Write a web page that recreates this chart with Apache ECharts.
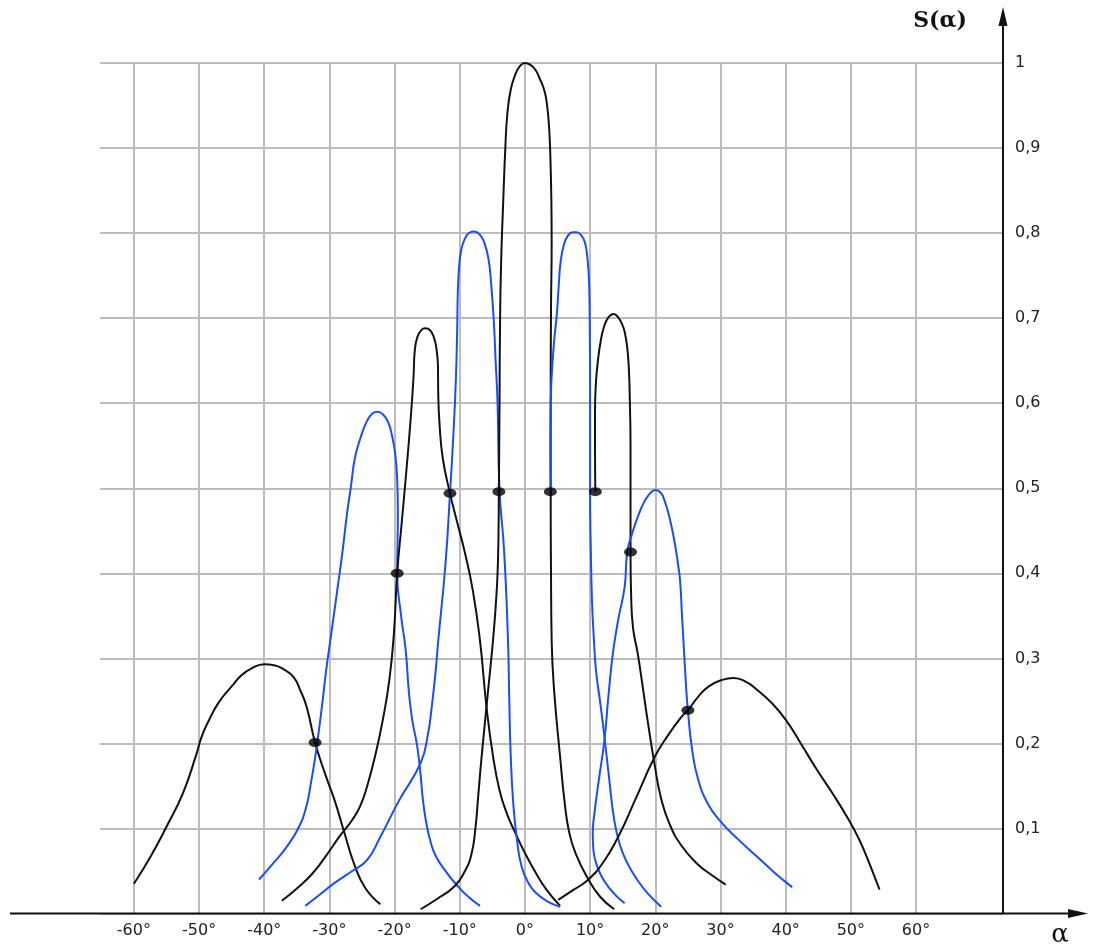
<!DOCTYPE html>
<html>
<head>
<meta charset="utf-8">
<script src="https://cdn.jsdelivr.net/npm/echarts@6/dist/echarts.min.js"></script>
<style>
  html, body { margin: 0; padding: 0; background: #fff; }
  #chart { width: 1101px; height: 944px; }
</style>
</head>
<body>
<div id="chart"></div>
<script>
// axis ticks
const xTicks = [-60, -50, -40, -30, -20, -10, 0, 10, 20, 30, 40, 50, 60]
const xMin = -65.2
const xMax = 73.35

// black curves [alpha, S]
const black1 = [[-60, 0.035], [-57.5, 0.066], [-55, 0.102], [-52.5, 0.141], [-50.5, 0.185], [-49.6, 0.208], [-48.5, 0.227], [-47, 0.248], [-45, 0.267], [-43.5, 0.28], [-42, 0.288], [-40, 0.293], [-38.5, 0.292], [-37, 0.287], [-35.5, 0.278], [-34.5, 0.263], [-33.5, 0.243], [-32.2, 0.201], [-30.7, 0.165], [-29.2, 0.133], [-27.7, 0.095], [-26.2, 0.058], [-24.5, 0.03], [-22.2, 0.011]]
const black2 = [[-37.3, 0.015], [-34.9, 0.03], [-32.6, 0.047], [-30.5, 0.068], [-28.5, 0.09], [-26.5, 0.11], [-25.3, 0.126], [-24.2, 0.15], [-23, 0.185], [-21.8, 0.228], [-20.8, 0.275], [-20.1, 0.33], [-19.6, 0.4], [-18.9, 0.46], [-18.2, 0.52], [-17.5, 0.585], [-17.1, 0.63], [-16.9, 0.662], [-16.5, 0.678], [-15.9, 0.686], [-15.3, 0.688], [-14.6, 0.686], [-14, 0.678], [-13.6, 0.665], [-13.35, 0.645], [-13.3, 0.61], [-13.1, 0.575], [-12.6, 0.535], [-11.5, 0.494], [-10.4, 0.46], [-9.3, 0.427], [-8, 0.38], [-6.9, 0.321], [-5.9, 0.243], [-4.9, 0.185], [-3.9, 0.145], [-2.8, 0.118], [-1.5, 0.095], [0, 0.071], [1.5, 0.05], [3.3, 0.028], [5.4, 0.009]]
const black3 = [[-16, 0.005], [-13.5, 0.017], [-10.8, 0.032], [-9.2, 0.05], [-8.2, 0.07], [-7.6, 0.1], [-7.2, 0.135], [-6.7, 0.18], [-5.9, 0.243], [-4.9, 0.321], [-4.5, 0.36], [-4.2, 0.4], [-4.05, 0.45], [-4, 0.5], [-3.9, 0.6], [-3.8, 0.71], [-3.6, 0.78], [-3.4, 0.823], [-3, 0.902], [-2.7, 0.94], [-2.2, 0.968], [-1.5, 0.986], [-0.8, 0.996], [0, 1], [0.8, 0.998], [1.6, 0.992], [2.25, 0.982], [3, 0.967], [3.4, 0.95], [3.7, 0.925], [3.9, 0.89], [4.05, 0.84], [4.1, 0.79], [4.0, 0.71], [3.95, 0.6], [3.95, 0.496], [4.0, 0.4], [4.1, 0.321], [4.5, 0.26], [5.4, 0.184], [6.1, 0.13], [6.8, 0.095], [7.8, 0.07], [9.6, 0.042], [11.5, 0.02], [13.7, 0.005]]
const black4 = [[10.8, 0.496], [10.75, 0.55], [10.75, 0.59], [10.9, 0.625], [11.2, 0.65], [11.6, 0.672], [12.1, 0.689], [12.8, 0.701], [13.6, 0.705], [14.3, 0.701], [14.9, 0.693], [15.3, 0.684], [15.7, 0.665], [15.95, 0.64], [16.1, 0.6], [16.2, 0.549], [16.2, 0.48], [16.2, 0.425], [16.3, 0.372], [16.6, 0.335], [17.3, 0.306], [18.1, 0.265], [18.8, 0.228], [19.9, 0.175], [20.9, 0.135], [22.2, 0.105], [24, 0.08], [26.5, 0.058], [28.7, 0.045], [30.8, 0.034]]
const black5 = [[5.1, 0.016], [7.5, 0.028], [9.6, 0.039], [12, 0.06], [14.3, 0.09], [17, 0.135], [19.9, 0.184], [22, 0.21], [24, 0.231], [25, 0.239], [26.6, 0.255], [28.2, 0.267], [30, 0.274], [32, 0.277], [34, 0.272], [35.6, 0.263], [37.8, 0.248], [40, 0.228], [42.4, 0.199], [44.8, 0.169], [47.3, 0.14], [49.7, 0.11], [51.1, 0.09], [52.2, 0.071], [53.4, 0.048], [54.4, 0.028]]

// blue curves [alpha, S]
const blue1 = [[-40.8, 0.04], [-38.5, 0.06], [-36.5, 0.079], [-34.8, 0.1], [-33.6, 0.124], [-32.8, 0.155], [-32.1, 0.188], [-31.2, 0.24], [-30.5, 0.286], [-29.7, 0.33], [-28.8, 0.38], [-28, 0.425], [-27.3, 0.47], [-26.7, 0.502], [-26.1, 0.535], [-25.2, 0.56], [-24.3, 0.578], [-23.4, 0.588], [-22.6, 0.59], [-21.8, 0.587], [-21, 0.578], [-20.4, 0.562], [-19.9, 0.54], [-19.6, 0.51], [-19.5, 0.47], [-19.6, 0.4], [-19, 0.35], [-18.3, 0.31], [-17.8, 0.26], [-17.3, 0.228], [-16.6, 0.2], [-16.1, 0.17], [-15.6, 0.13], [-15.1, 0.105], [-14.5, 0.085], [-13.7, 0.068], [-12, 0.048], [-10.3, 0.032], [-8.6, 0.019], [-6.9, 0.009]]
const blue2 = [[-33.7, 0.009], [-31.5, 0.022], [-29.2, 0.036], [-26.5, 0.05], [-24.2, 0.063], [-22.2, 0.09], [-19.3, 0.133], [-16, 0.177], [-14.9, 0.21], [-14.3, 0.243], [-13.7, 0.285], [-13.3, 0.321], [-12.2, 0.41], [-11.5, 0.494], [-11, 0.56], [-10.6, 0.627], [-10.4, 0.685], [-10.3, 0.73], [-10.1, 0.76], [-9.8, 0.779], [-9.3, 0.792], [-8.6, 0.8], [-7.8, 0.802], [-6.9, 0.798], [-6.2, 0.788], [-5.6, 0.77], [-5.2, 0.742], [-4.8, 0.7], [-4.5, 0.65], [-4.2, 0.6], [-3.9, 0.498], [-3.2, 0.427], [-2.6, 0.321], [-2.4, 0.25], [-2.2, 0.19], [-1.8, 0.13], [-1.2, 0.085], [-0.5, 0.055], [0.6, 0.035], [1.7, 0.024], [3.5, 0.014], [5.4, 0.008]]
const blue3 = [[3.95, 0.496], [3.9, 0.55], [3.95, 0.6], [4.4, 0.666], [4.9, 0.705], [5.2, 0.74], [5.5, 0.768], [6, 0.787], [6.6, 0.797], [7.3, 0.801], [7.9, 0.801], [8.6, 0.798], [9.2, 0.789], [9.6, 0.77], [9.85, 0.74], [9.95, 0.69], [10, 0.6], [10, 0.498], [10.1, 0.43], [10.3, 0.365], [10.6, 0.32], [10.9, 0.286], [11.6, 0.245], [12.2, 0.208], [12.9, 0.16], [13.7, 0.11], [14.6, 0.08], [15.8, 0.058], [17.2, 0.04], [18.8, 0.024], [20.9, 0.008]]
const blue4 = [[15.3, 0.012], [13.6, 0.024], [12.2, 0.038], [11.2, 0.053], [10.5, 0.075], [10.4, 0.095], [10.7, 0.12], [11.3, 0.155], [12.2, 0.204], [12.8, 0.255], [13.5, 0.306], [14.3, 0.345], [15.3, 0.384], [15.7, 0.425], [16.5, 0.448], [17.4, 0.468], [18.3, 0.484], [19.2, 0.494], [20, 0.498], [20.8, 0.495], [21.4, 0.486], [22.2, 0.465], [23, 0.435], [23.5, 0.41], [23.8, 0.392], [24.1, 0.35], [24.4, 0.31], [24.7, 0.27], [25, 0.239], [25.7, 0.19], [26.6, 0.157], [28, 0.13], [29.8, 0.11], [32.6, 0.088], [35.6, 0.067], [38.3, 0.048], [41, 0.031]]

// crossing points
const dots = [[-32.2, 0.201], [-19.6, 0.4], [-11.5, 0.494], [-4.0, 0.496], [3.9, 0.496], [10.8, 0.496], [16.2, 0.425], [25, 0.239]]

const chart = echarts.init(document.getElementById('chart'))

function curve(data, color) {
  return {
    type: 'line',
    data: data,
    smooth: 0.5,
    showSymbol: false,
    silent: true,
    lineStyle: { color: color, width: 2 },
    z: 3
  }
}

const option = {
  animation: false,
  backgroundColor: '#fff',
  grid: { left: 100, right: 98, top: 63, bottom: 30.5 },
  xAxis: {
    type: 'value',
    min: xMin,
    max: xMax,
    axisLine: { show: false },
    axisTick: { show: false, customValues: xTicks },
    splitLine: { show: true, lineStyle: { color: '#bcbcbc', width: 2 } },
    axisLabel: {
      customValues: xTicks,
      margin: 9,
      color: '#222',
      fontSize: 16,
      fontFamily: 'DejaVu Sans',
      formatter: v => v + '°'
    }
  },
  yAxis: {
    type: 'value',
    position: 'right',
    min: 0,
    max: 1,
    interval: 0.1,
    axisLine: { show: false },
    axisTick: { show: false },
    splitLine: { show: true, lineStyle: { color: '#bcbcbc', width: 2 } },
    axisLabel: {
      margin: 12,
      color: '#222',
      fontSize: 16,
      fontFamily: 'DejaVu Sans',
      formatter: v => (v === 0 ? '' : String(+v.toFixed(1)).replace('.', ','))
    }
  },
  series: [
    curve(black1, '#111'),
    curve(blue1, '#1a4cff'),
    curve(black2, '#111'),
    curve(blue2, '#1a4cff'),
    curve(black3, '#111'),
    curve(blue3, '#1a4cff'),
    curve(black4, '#111'),
    curve(blue4, '#1a4cff'),
    curve(black5, '#111'),
    {
      type: 'scatter',
      data: dots,
      symbol: 'circle',
      symbolSize: [13, 9],
      itemStyle: { color: '#000' },
      silent: true,
      z: 5
    }
  ]
}
chart.setOption(option)

// axes with arrows, placed from the axis scale
const origin = chart.convertToPixel({ gridIndex: 0 }, [xMax, 0])
const ax = origin[0]
const ay = origin[1]
chart.setOption({
  graphic: [
    { type: 'line', shape: { x1: 10, y1: ay, x2: 1072, y2: ay }, style: { stroke: '#111', lineWidth: 2 }, z: 10 },
    { type: 'polygon', shape: { points: [[1068, ay - 4.5], [1088, ay], [1068, ay + 4.5]] }, style: { fill: '#111' }, z: 10 },
    { type: 'line', shape: { x1: ax, y1: ay, x2: ax, y2: 22 }, style: { stroke: '#111', lineWidth: 2 }, z: 10 },
    { type: 'polygon', shape: { points: [[ax - 4.5, 26], [ax, 7], [ax + 4.5, 26]] }, style: { fill: '#111' }, z: 10 },
    { type: 'text', x: 940, y: 21, style: { text: 'S(α)', font: 'bold 22px "DejaVu Serif"', fill: '#111', textAlign: 'center', textVerticalAlign: 'middle' }, z: 10 },
    { type: 'text', x: 1060, y: 935, style: { text: 'α', font: '26px "DejaVu Serif"', fill: '#111', textAlign: 'center', textVerticalAlign: 'middle' }, z: 10 }
  ]
})
</script>
</body>
</html>
